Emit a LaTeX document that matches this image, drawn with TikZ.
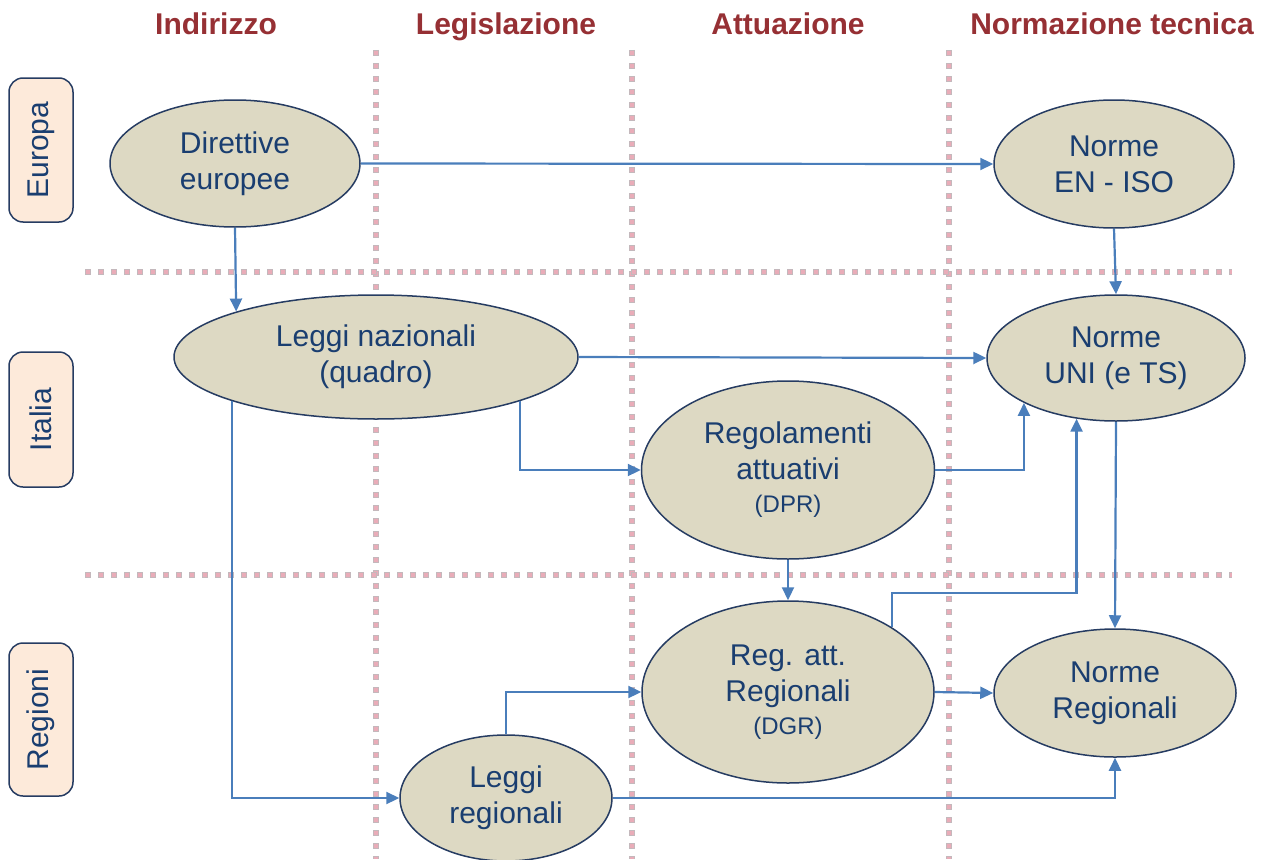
\documentclass[tikz,border=0pt]{standalone}
\usepackage{fontspec}
\setmainfont{Liberation Sans}
\usetikzlibrary{shapes.geometric,arrows.meta}

\definecolor{hdr}{RGB}{150,48,52}
\definecolor{ink}{RGB}{26,62,112}
\definecolor{rim}{RGB}{38,60,98}
\definecolor{bodyfill}{RGB}{221,217,195}
\definecolor{tagfill}{RGB}{253,234,218}
\definecolor{link}{RGB}{74,126,187}
\definecolor{dotedge}{RGB}{196,184,188}
\definecolor{dotfill}{RGB}{233,172,184}

\begin{document}
\begin{tikzpicture}[x=1pt,y=-1pt,
  body/.style={ellipse, draw=rim, line width=1.5pt, fill=bodyfill, text=ink,
    inner sep=0pt, align=center, font=\fontsize{30}{36}\selectfont},
  tag/.style={rectangle, rounded corners=14pt, draw=rim, line width=1.5pt,
    fill=tagfill, text=ink, rotate=90, minimum height=64pt,
    font=\fontsize{30}{35}\selectfont},
  colhead/.style={anchor=base, text=hdr, font=\bfseries\fontsize{30}{35}\selectfont},
  link/.style={draw=link, line width=2.2pt, -{Triangle[length=13pt,width=12pt]}},
  gridedge/.style={draw=dotedge, line width=6pt, dash pattern=on 6pt off 7pt},
  gridfill/.style={draw=dotfill, line width=4pt, dash pattern=on 4pt off 9pt, dash phase=12pt}
]
\useasboundingbox (0,0) rectangle (1268,859);

% column headings
\node[colhead] (hInd) at (216,35) {Indirizzo};
\node[colhead] (hLeg) at (506,35) {Legislazione};
\node[colhead] (hAtt) at (788,35) {Attuazione};
\node[colhead] (hNor) at (1112,35) {Normazione tecnica};

% dotted separators between columns and rows
\foreach \gx in {376,632,949} {
  \path[gridedge] (\gx,50) -- (\gx,859);
  \path[gridfill] (\gx,50) -- (\gx,859);
}
\foreach \gy in {272,575} {
  \path[gridedge] (85,\gy) -- (1232,\gy);
  \path[gridfill] (85,\gy) -- (1232,\gy);
}

% row tags
\node[tag, minimum width=144pt] (rEu) at (41,150) {Europa};
\node[tag, minimum width=135pt] (rIt) at (41,419.5) {Italia};
\node[tag, minimum width=153pt] (rRe) at (41,719.5) {Regioni};

% bodies
\node[body, minimum width=250pt, minimum height=127pt] (dir) at (235,163.5) {Direttive\\europee};
\node[body, minimum width=240pt, minimum height=128pt] (en) at (1114,164) {Norme\\EN - ISO};
\node[body, minimum width=404pt, minimum height=124pt] (ln) at (376,357) {Leggi nazionali\\(quadro)};
\node[body, minimum width=258pt, minimum height=126pt] (uni) at (1116,358) {Norme\\UNI (e TS)};
\node[body, minimum width=293pt, minimum height=178pt] (dpr) at (788,470)
  {Regolamenti\\attuativi\\[-3pt]{\fontsize{24}{28}\selectfont(DPR)}};
\node[body, minimum width=292pt, minimum height=182pt] (dgr) at (788,692)
  {Reg. att.\\Regionali\\[-3pt]{\fontsize{24}{28}\selectfont(DGR)}};
\node[body, minimum width=242pt, minimum height=128pt] (nr) at (1115,693) {Norme\\Regionali};
\node[body, minimum width=212pt, minimum height=126pt] (lr) at (506,798) {Leggi\\regionali};

% connectors
\draw[link] (dir.east) -- (en.west);
\draw[link] (dir.south) -- (ln.162.6);
\draw[link] (en.south) -- (uni.north);
\draw[link] (ln.east) -- (uni.west);
\draw[link] (ln.-17.2) |- (dpr.west);
\draw[link] (ln.197.2) |- (lr.west);
\draw[link] (dpr.east) -| (uni.206.2);
\draw[link] (dpr.south) -- (dgr.north);
\draw[link] (dgr.32.05) -- ++(0,-34.5) -| (uni.237);
\draw[link] (uni.south) -- (nr.north);
\draw[link] (dgr.east) -- (nr.west);
\draw[link] (lr.north) |- (dgr.west);
\draw[link] (lr.east) -| (nr.south);
\end{tikzpicture}
\end{document}
